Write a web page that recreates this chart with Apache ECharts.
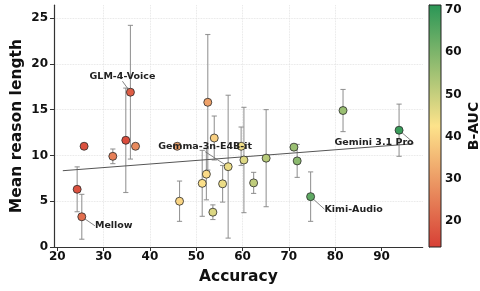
<!DOCTYPE html>
<html lang="en">
<head>
    <meta charset="UTF-8">
    <title>Accuracy vs reason length</title>
    <script src="https://cdn.jsdelivr.net/npm/echarts@6/dist/echarts.min.js"></script>
    <style>
        body { margin: 0; background: #fff; }
    </style>
</head>
<body>
    <div id="main" style="width: 480px; height: 291px"></div>
    <script>
        // values
        var accuracy = [24.3, 25.3, 25.8, 32.0, 34.8, 35.8, 36.9, 45.9, 46.4, 51.3, 52.2, 52.5, 53.6,
                        53.9, 55.7, 56.9, 59.7, 60.3, 62.4, 65.1, 71.1, 71.8, 74.7, 81.7, 93.8];
        var meanLen = [6.3, 3.3, 11.0, 9.9, 11.65, 16.9, 11.0, 11.0, 5.0, 6.95, 7.95, 15.8, 3.8,
                       11.9, 6.9, 8.77, 11.0, 9.5, 7.0, 9.7, 10.9, 9.4, 5.5, 14.9, 12.75];
        var stdLen = [2.45, 2.45, 0.2, 0.8, 5.7, 7.3, 0.2, 0.2, 2.2, 3.6, 2.8, 7.4, 0.8,
                      2.4, 2.0, 7.8, 2.1, 5.75, 1.15, 5.3, 0.3, 1.8, 2.7, 2.3, 2.85];
        var bauc = [17, 22, 17, 25, 16, 19, 27, 31, 40, 42, 41, 31, 47,
                    39, 45, 45, 44, 47, 51, 52, 56, 58, 64, 56, 69];
        var labelNames = ['', 'Mellow', '', '', '', 'GLM-4-Voice', '', '', '', '', '', '', '',
                          '', '', 'Gemma-3n-E4B-it', '', '', '', '', '', '', 'Kimi-Audio', '', 'Gemini 3.1 Pro'];
        var trendX = [21.2, 96.9];
        var trendY = [8.33, 11.27];
        var xTicks = [20, 30, 40, 50, 60, 70, 80, 90];
        var cbTicks = [20, 30, 40, 50, 60, 70];
        var cbMin = 13.8, cbMax = 71.2;

        // label offsets (px) from the point
        var labelOffsets = {
            'Mellow': [32, 9],
            'GLM-4-Voice': [-8, -16],
            'Gemma-3n-E4B-it': [-23, -20],
            'Kimi-Audio': [43, 12.5],
            'Gemini 3.1 Pro': [-25, 12.5]
        };

        var cmap = ['#d73f35', '#fde38b', '#2a9656'];
        var font = 'DejaVu Sans';

        var errData = [], pts = [], trend = [];
        for (var i = 0; i < accuracy.length; i++) {
            errData.push([accuracy[i], meanLen[i] - stdLen[i], meanLen[i] + stdLen[i]]);
            var item = { value: [accuracy[i], meanLen[i], stdLen[i], bauc[i]] };
            if (labelNames[i]) {
                item.label = { show: true };
                item.labelLine = { show: true };
            }
            pts.push(item);
        }
        for (var j = 0; j < trendX.length; j++) trend.push([trendX[j], trendY[j]]);

        var chart = echarts.init(document.getElementById('main'));
        chart.setOption({
            animation: false,
            textStyle: { fontFamily: font },
            grid: [
                { left: 54, right: 57.3, top: 5.2, bottom: 44, containLabel: false, outerBoundsMode: 'none' },
                { left: 429, width: 12, top: 5, height: 242, containLabel: false, outerBoundsMode: 'none' }
            ],
            xAxis: [{
                type: 'value', min: 19.3, max: 98.9, splitNumber: 8,
                name: 'Accuracy', nameLocation: 'middle', nameGap: 22, nameMoveOverlap: false,
                nameTextStyle: { fontSize: 15.5, fontWeight: 'bold', color: '#111' },
                axisLine: { lineStyle: { color: '#333', width: 1.2 } },
                axisTick: { show: true, length: 4, customValues: xTicks, lineStyle: { color: '#333' } },
                axisLabel: { customValues: xTicks, fontSize: 12, fontWeight: 'bold', color: '#111', margin: 4 },
                splitLine: { show: true, showMinLine: false, showMaxLine: false,
                             lineStyle: { color: '#dedede', type: 'dotted', width: 0.8 } }
            }, {
                gridIndex: 1, type: 'value', min: 0, max: 1, show: false
            }],
            yAxis: [{
                type: 'value', min: 0, max: 26.4, interval: 5,
                name: 'Mean reason length', nameLocation: 'middle', nameGap: 29, nameMoveOverlap: false,
                nameTextStyle: { fontSize: 15.5, fontWeight: 'bold', color: '#111' },
                axisLine: { show: true, lineStyle: { color: '#333', width: 1.2 } },
                axisTick: { show: true, length: 4, lineStyle: { color: '#333' } },
                axisLabel: { fontSize: 12, fontWeight: 'bold', color: '#111', margin: 6, showMaxLabel: false },
                splitLine: { show: true, showMinLine: false, showMaxLine: false,
                             lineStyle: { color: '#dedede', type: 'dotted', width: 0.8 } }
            }, {
                gridIndex: 1, type: 'value', position: 'right', min: cbMin, max: cbMax,
                name: 'B-AUC', nameLocation: 'middle', nameGap: 26, nameRotate: 90,
                nameTextStyle: { fontSize: 14, fontWeight: 'bold', color: '#111' },
                axisLine: { show: true, lineStyle: { color: '#222', width: 1 } },
                axisTick: { show: true, length: 3.5, customValues: cbTicks, lineStyle: { color: '#222' } },
                axisLabel: { customValues: cbTicks, fontSize: 12, fontWeight: 'bold', color: '#111', margin: 4 },
                splitLine: { show: false }
            }],
            visualMap: {
                show: false, type: 'continuous', min: cbMin, max: cbMax,
                dimension: 3, seriesIndex: 2, inRange: { color: cmap }
            },
            series: [{
                // error bars
                type: 'custom',
                data: errData,
                z: 1,
                renderItem: function(params, api) {
                    var x = api.value(0);
                    var lo = api.coord([x, api.value(1)]);
                    var hi = api.coord([x, api.value(2)]);
                    var cap = 2.6;
                    var st = { stroke: '#8c8c8c', lineWidth: 1.1, opacity: 0.9 };
                    return {
                        type: 'group',
                        children: [
                            { type: 'line', shape: { x1: lo[0], y1: lo[1], x2: hi[0], y2: hi[1] }, style: st },
                            { type: 'line', shape: { x1: lo[0] - cap, y1: lo[1], x2: lo[0] + cap, y2: lo[1] }, style: st },
                            { type: 'line', shape: { x1: hi[0] - cap, y1: hi[1], x2: hi[0] + cap, y2: hi[1] }, style: st }
                        ]
                    };
                }
            }, {
                // trend line
                type: 'line',
                data: trend,
                symbol: 'none',
                z: 2,
                lineStyle: { color: '#555', width: 1 }
            }, {
                type: 'scatter',
                data: pts,
                symbolSize: 8,
                z: 3,
                itemStyle: { borderColor: '#2a2a2a', borderWidth: 0.8, opacity: 1 },
                label: {
                    show: false, position: 'inside',
                    fontSize: 9.5, fontWeight: 'bold', color: '#222',
                    formatter: function(p) { return labelNames[p.dataIndex]; }
                },
                labelLine: { show: false, lineStyle: { color: '#666', width: 0.8 } },
                labelLayout: function(params) {
                    var o = labelOffsets[labelNames[params.dataIndex]];
                    if (!o) return {};
                    return { dx: o[0], dy: o[1] };
                }
            }, {
                // colorbar
                type: 'custom',
                xAxisIndex: 1, yAxisIndex: 1,
                data: [[0, cbMin, 1, cbMax]],
                silent: true,
                renderItem: function(params, api) {
                    var p0 = api.coord([api.value(0), api.value(3)]);
                    var p1 = api.coord([api.value(2), api.value(1)]);
                    return {
                        type: 'rect',
                        shape: { x: p0[0], y: p0[1], width: p1[0] - p0[0], height: p1[1] - p0[1] },
                        style: {
                            fill: new echarts.graphic.LinearGradient(0, 0, 0, 1, [
                                { offset: 0, color: cmap[2] },
                                { offset: 0.5, color: cmap[1] },
                                { offset: 1, color: cmap[0] }
                            ]),
                            stroke: '#222', lineWidth: 1
                        }
                    };
                }
            }]
        });
    </script>
</body>
</html>
